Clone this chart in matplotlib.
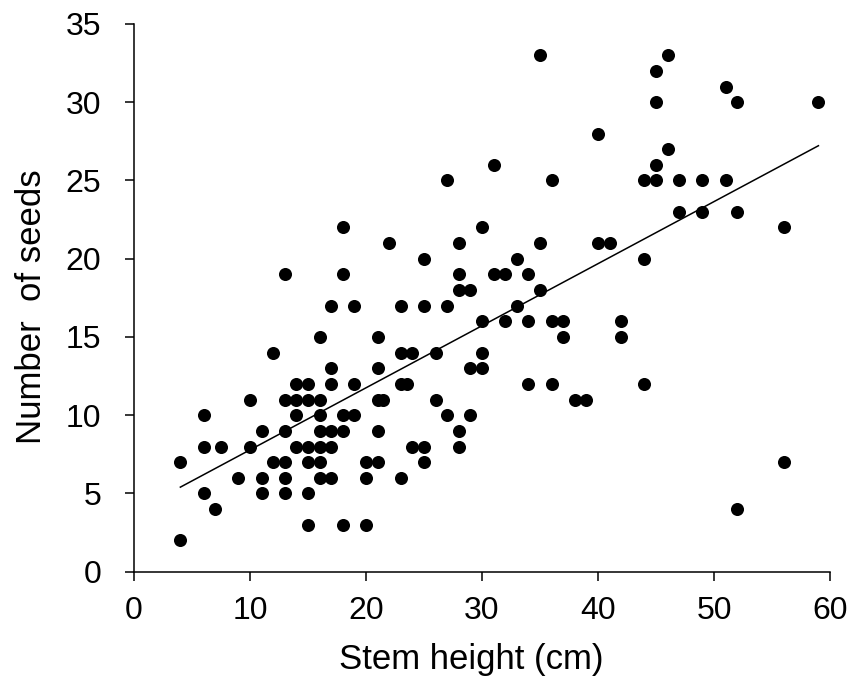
import numpy as np
import matplotlib
matplotlib.use("Agg")
import matplotlib.pyplot as plt

plt.rcParams['font.family'] = ['Liberation Sans', 'DejaVu Sans']

# Datos (altura del tallo cm, numero de semillas)
stem_height = [
    4, 4, 6, 6, 6, 7, 7.5, 9, 10, 10,
    11, 11, 11, 12, 12, 13, 13, 13, 13, 13, 13,
    14, 14, 14, 14, 15, 15, 15, 15, 15, 15,
    16, 16, 16, 16, 16, 16, 16, 17, 17, 17, 17, 17, 17,
    18, 18, 18, 18, 18, 19, 19, 19, 20, 20, 20,
    21, 21, 21, 21, 21, 21.5, 22, 23, 23, 23, 23.5, 23,
    24, 24, 25, 25, 25, 25, 26, 26, 27, 27, 27,
    28, 28, 28, 28, 28, 29, 29, 29, 30, 30, 30, 30,
    31, 31, 32, 32, 33, 33, 34, 34, 34, 35, 35, 35,
    36, 36, 36, 37, 37, 38, 39,
    40, 40, 41, 42, 42, 44, 44, 44, 45, 45, 45, 45,
    46, 46, 47, 47, 49, 49, 51, 51, 52, 52, 52, 56, 56, 59,
]
seeds = [
    2, 7, 10, 8, 5, 4, 8, 6, 11, 8,
    9, 6, 5, 14, 7, 19, 11, 9, 7, 6, 5,
    12, 11, 10, 8, 12, 11, 8, 7, 5, 3,
    15, 11, 10, 9, 8, 7, 6, 17, 13, 12, 9, 8, 6,
    22, 19, 10, 9, 3, 17, 12, 10, 7, 6, 3,
    15, 13, 11, 9, 7, 11, 21, 17, 14, 12, 12, 6,
    14, 8, 20, 17, 8, 7, 14, 11, 25, 17, 10,
    21, 19, 18, 9, 8, 18, 13, 10, 22, 16, 14, 13,
    26, 19, 19, 16, 20, 17, 19, 16, 12, 33, 21, 18,
    25, 16, 12, 16, 15, 11, 11,
    28, 21, 21, 16, 15, 25, 20, 12, 32, 30, 26, 25,
    33, 27, 25, 23, 25, 23, 31, 25, 30, 23, 4, 22, 7, 30,
]

x = np.array(stem_height, dtype=float)
y = np.array(seeds, dtype=float)

# Linea de tendencia (minimos cuadrados)
slope, intercept = np.polyfit(x, y, 1)
x_fit = np.array([x.min(), x.max()])
y_fit = slope * x_fit + intercept

fig = plt.figure(figsize=(8.5, 6.81), dpi=100)
ax = fig.add_axes([0.1576, 0.1605, 0.8189, 0.8043])

ax.plot(x, y, 'o', color='black', markersize=9.4, markeredgewidth=0, zorder=3)
ax.plot(x_fit, y_fit, '-', color='black', linewidth=1.1, zorder=2)

ax.set_xlim(0, 60)
ax.set_ylim(0, 35)
ax.set_xticks(np.arange(0, 61, 10))
ax.set_yticks(np.arange(0, 36, 5))

for side in ['top', 'right']:
    ax.spines[side].set_visible(False)
for side in ['left', 'bottom']:
    ax.spines[side].set_linewidth(1.1)
    ax.spines[side].set_color('black')

ax.tick_params(axis='both', direction='out', length=6.5, width=1.1,
               labelsize=23, color='black')
ax.tick_params(axis='y', pad=17)
ax.tick_params(axis='x', pad=11)

ax.set_xlabel("Stem height (cm)", fontsize=25, labelpad=12)
ax.set_ylabel("Number  of seeds", fontsize=25, labelpad=13)
# pequeño desplazamiento de las etiquetas como en el original
ax.xaxis.label.set_x(0.485)
ax.yaxis.label.set_y(0.483)

fig.savefig("out.png", dpi=100)
